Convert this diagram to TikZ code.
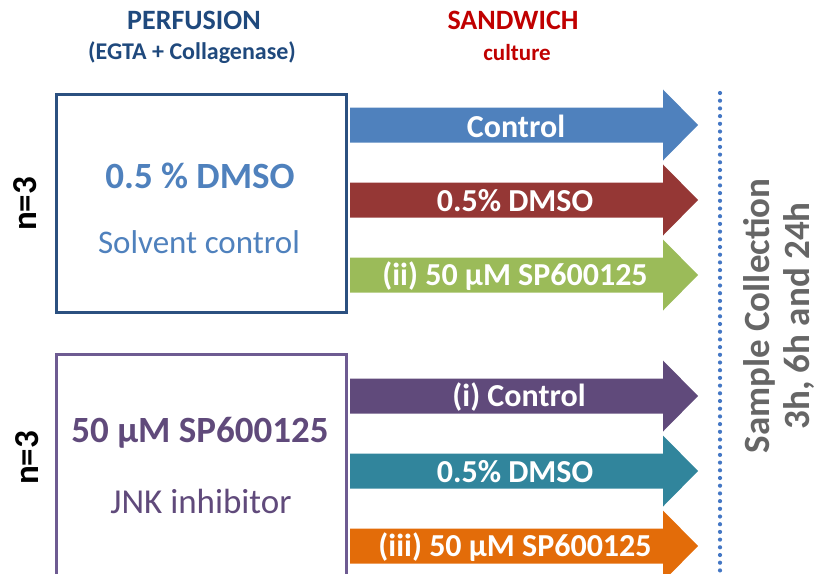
\documentclass[tikz,border=0pt]{standalone}
\usepackage{fontspec}
\setmainfont{Carlito}
\definecolor{hdrblue}{HTML}{1F497D}
\definecolor{hdrred}{HTML}{C00000}
\definecolor{boxblue}{HTML}{2B5080}
\definecolor{boxpurple}{HTML}{6E5B92}
\definecolor{txtblue}{HTML}{4F81BD}
\definecolor{txtpurple}{HTML}{604A7B}
\definecolor{aone}{HTML}{4F81BD}
\definecolor{atwo}{HTML}{953735}
\definecolor{athree}{HTML}{9BBB59}
\definecolor{afour}{HTML}{604A7B}
\definecolor{afive}{HTML}{31859C}
\definecolor{asix}{HTML}{E36C09}
\definecolor{dotblue}{HTML}{4477C4}
\definecolor{sgray}{HTML}{666666}
\newcommand\fsz[2]{\fontsize{#1}{#2}\selectfont}
\newcommand\sarrow[2]{\fill[#2] (350,{#1-17.5}) -- (663,{#1-17.5}) -- (663,{#1-35.5}) -- (698,#1) -- (663,{#1+35.5}) -- (663,{#1+17.5}) -- (350,{#1+17.5}) -- cycle;}
\tikzset{
  arrlabel/.style={text=white, font=\bfseries\fsz{32}{35}, inner sep=0pt, anchor=center},
  groupbox/.style={line width=3pt, fill=white},
}
\begin{document}
\begin{tikzpicture}[x=1pt,y=-1pt]
\useasboundingbox (0,0) rectangle (818,573);
\clip (0,0) rectangle (818,573);
% headers
\node[text=hdrblue, font=\bfseries\fsz{28}{31}] (perf) at (194,20) {PERFUSION};
\node[text=hdrblue, font=\bfseries\fsz{24}{27}] (egta) at (192,53) {(EGTA + Collagenase)};
\node[text=hdrred, font=\bfseries\fsz{28}{31}] (sand) at (513,20) {SANDWICH};
\node[text=hdrred, font=\bfseries\fsz{23}{26}] (cult) at (517,53) {culture};
% boxes
\draw[groupbox, draw=boxblue] (56,94) rectangle (346,312);
\node[text=txtblue, font=\bfseries\fsz{37}{40}] (dmso) at (200,176) {0.5 \% DMSO};
\node[text=txtblue, font=\fsz{33}{36}] (solv) at (199,242) {Solvent control};
\draw[groupbox, draw=boxpurple] (56,354) rectangle (346,600);
\node[text=txtpurple, font=\bfseries\fsz{37}{40}] (sp) at (200,433) {50 µM SP600125};
\node[text=txtpurple, font=\fsz{35}{38}] (jnk) at (201,501) {JNK inhibitor};
% n=3
\node[rotate=90, font=\bfseries\fsz{35}{38}] (n1) at (25,204) {n=3};
\node[rotate=90, font=\bfseries\fsz{35}{38}] (n2) at (27,458) {n=3};
% arrows
\sarrow{125}{aone}
\sarrow{200}{atwo}
\sarrow{275}{athree}
\sarrow{396}{afour}
\sarrow{471}{afive}
\sarrow{546}{asix}
\node[arrlabel] (l1) at (516,126) {Control};
\node[arrlabel] (l2) at (515,201) {0.5\% DMSO};
\node[arrlabel] (l3) at (515,276) {(ii) 50 µM SP600125};
\node[arrlabel] (l4) at (519,397) {(i) Control};
\node[arrlabel] (l5) at (515,472) {0.5\% DMSO};
\node[arrlabel] (l6) at (515,547) {(iii) 50 µM SP600125};
% dotted line
\coordinate (dtop) at (720,93);
\coordinate (dbot) at (720,580);
\foreach \yy in {93,100.7,...,580} \fill[dotblue] (720,\yy) circle (2.1pt);
% sample collection
\node[rotate=90, text=sgray, font=\bfseries\fsz{37}{40}] (samp) at (759,316) {Sample Collection};
\node[rotate=90, text=sgray, font=\bfseries\fsz{37}{40}] (times) at (799,316) {3h, 6h and 24h};
\end{tikzpicture}
\end{document}
